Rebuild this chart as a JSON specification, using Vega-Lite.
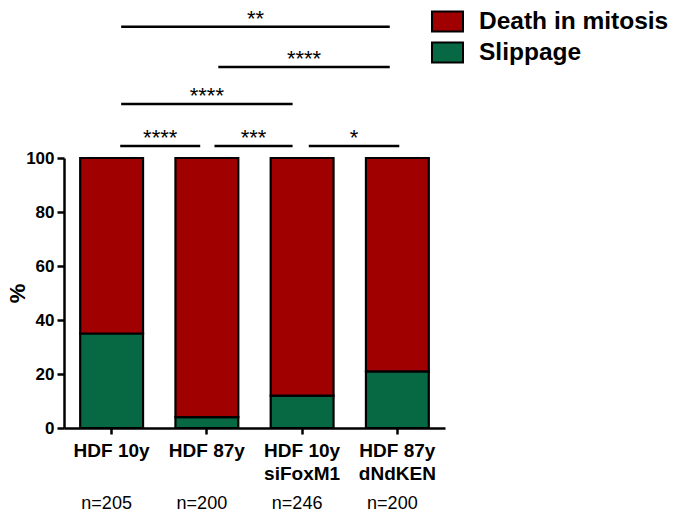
{
  "$schema": "https://vega.github.io/schema/vega-lite/v6.json",
  "width": 381,
  "height": 270,
  "autosize": "none",
  "padding": {"left": 64, "top": 158, "right": 239, "bottom": 84},
  "background": "white",
  "config": {"view": {"stroke": null}, "font": "Liberation Sans"},
  "datasets": {
    "outcomes": [
      {"group": "HDF 10y", "outcome": "Slippage", "pct": 35},
      {"group": "HDF 10y", "outcome": "Death in mitosis", "pct": 65},
      {"group": "HDF 87y", "outcome": "Slippage", "pct": 4},
      {"group": "HDF 87y", "outcome": "Death in mitosis", "pct": 96},
      {"group": "HDF 10y\nsiFoxM1", "outcome": "Slippage", "pct": 12},
      {"group": "HDF 10y\nsiFoxM1", "outcome": "Death in mitosis", "pct": 88},
      {"group": "HDF 87y\ndNdKEN", "outcome": "Slippage", "pct": 21},
      {"group": "HDF 87y\ndNdKEN", "outcome": "Death in mitosis", "pct": 79}
    ],
    "counts": [
      {"group": "HDF 10y", "n": 205},
      {"group": "HDF 87y", "n": 200},
      {"group": "HDF 10y\nsiFoxM1", "n": 246},
      {"group": "HDF 87y\ndNdKEN", "n": 200}
    ],
    "comparisons": [
      {"label": "**", "from": 0.1, "to": 2.92, "level": 148.6},
      {"label": "****", "from": 1.12, "to": 2.92, "level": 133.7},
      {"label": "****", "from": 0.1, "to": 1.9, "level": 120},
      {"label": "****", "from": 0.09, "to": 0.93, "level": 104.4},
      {"label": "***", "from": 1.08, "to": 1.9, "level": 104.4},
      {"label": "*", "from": 2.07, "to": 3.02, "level": 104.4}
    ]
  },
  "layer": [
    {
      "layer": [
        {
          "data": {"name": "outcomes"},
          "mark": {"type": "bar", "stroke": "black", "strokeWidth": 2.2},
          "encoding": {
            "x": {
              "field": "group",
              "type": "nominal",
              "sort": ["HDF 10y", "HDF 87y", "HDF 10y\nsiFoxM1", "HDF 87y\ndNdKEN"],
              "scale": {"paddingInner": 0.34, "paddingOuter": 0.17},
              "axis": {
                "title": null,
                "labelAngle": 0,
                "labelExpr": "split(datum.label, '\\n')",
                "labelFontSize": 19,
                "labelFontWeight": "bold",
                "labelColor": "black",
                "labelLineHeight": 23.5,
                "labelPadding": 7,
                "domainColor": "black",
                "domainWidth": 2.5,
                "tickColor": "black",
                "tickWidth": 2.5,
                "tickSize": 6
              }
            },
            "y": {
              "field": "pct",
              "type": "quantitative",
              "stack": "zero",
              "title": "%",
              "scale": {"domain": [0, 100], "nice": false},
              "axis": {
                "values": [0, 20, 40, 60, 80, 100],
                "grid": false,
                "domainColor": "black",
                "domainWidth": 2.5,
                "tickColor": "black",
                "tickWidth": 2.5,
                "tickSize": 7,
                "labelFontSize": 17,
                "labelFontWeight": "bold",
                "labelColor": "black",
                "labelPadding": 3,
                "titleFontSize": 22,
                "titleFontWeight": "bold",
                "titleColor": "black",
                "titlePadding": -4
              }
            },
            "color": {
              "field": "outcome",
              "type": "nominal",
              "scale": {"domain": ["Death in mitosis", "Slippage"], "range": ["#a00000", "#076944"]},
              "legend": {
                "orient": "none",
                "legendX": 367,
                "legendY": -153,
                "title": null,
                "padding": 0,
                "symbolType": "M-1,-0.65L1,-0.65L1,0.65L-1,0.65Z",
                "symbolSize": 961,
                "symbolStrokeColor": "black",
                "symbolStrokeWidth": 2,
                "symbolOpacity": 1,
                "labelFontSize": 24.5,
                "labelFontWeight": "bold",
                "labelColor": "black",
                "labelOffset": 15,
                "labelLimit": 400,
                "rowPadding": 0
              }
            },
            "order": {"field": "outcome", "sort": "descending"}
          }
        },
        {
          "data": {"name": "counts"},
          "transform": [{"calculate": "'n=' + datum.n", "as": "nlabel"}],
          "mark": {"type": "text", "fontSize": 18, "baseline": "alphabetic", "dy": 81, "dx": -5, "color": "black"},
          "encoding": {
            "x": {
              "field": "group",
              "type": "nominal",
              "sort": ["HDF 10y", "HDF 87y", "HDF 10y\nsiFoxM1", "HDF 87y\ndNdKEN"]
            },
            "y": {"datum": 0, "type": "quantitative", "title": "%", "scale": {"domain": [0, 100], "nice": false}},
            "text": {"field": "nlabel"}
          }
        }
      ]
    },
    {
      "data": {"name": "comparisons"},
      "transform": [{"calculate": "(datum.from + datum.to) / 2", "as": "mid"}],
      "layer": [
        {
          "mark": {"type": "rule", "color": "black", "strokeWidth": 2.5},
          "encoding": {
            "x": {"field": "from", "type": "quantitative", "scale": {"domain": [-0.5, 3.5], "nice": false, "zero": false}, "axis": null},
            "x2": {"field": "to"},
            "y": {"field": "level", "type": "quantitative", "title": "%", "scale": {"domain": [0, 100], "nice": false}}
          }
        },
        {
          "mark": {"type": "text", "fontSize": 22, "baseline": "alphabetic", "dy": -1, "color": "black"},
          "encoding": {
            "x": {"field": "mid", "type": "quantitative", "scale": {"domain": [-0.5, 3.5], "nice": false, "zero": false}, "axis": null},
            "y": {"field": "level", "type": "quantitative", "title": "%", "scale": {"domain": [0, 100], "nice": false}},
            "text": {"field": "label"}
          }
        }
      ]
    }
  ],
  "resolve": {"scale": {"x": "independent"}}
}
